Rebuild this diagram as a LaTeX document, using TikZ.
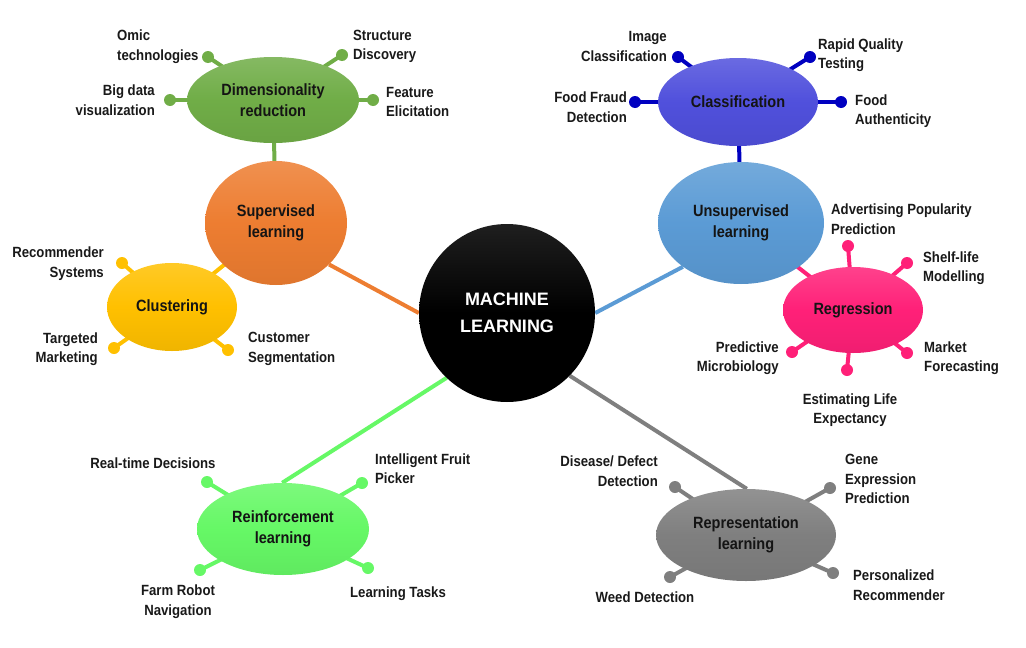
\documentclass[tikz,border=0pt]{standalone}
\usepackage{fontspec}
\setmainfont{Liberation Sans}
\newfontfamily\narrowfont{Liberation Sans}[FakeStretch=0.89]
\usetikzlibrary{shapes.geometric,backgrounds}
\definecolor{cdim}{HTML}{70AD47}
\definecolor{csup}{HTML}{ED7D31}
\definecolor{cclu}{HTML}{FFC000}
\definecolor{ccls}{HTML}{5050DC}
\definecolor{ccld}{HTML}{0000C0}
\definecolor{cuns}{HTML}{5B9BD5}
\definecolor{creg}{HTML}{FF2078}
\definecolor{crei}{HTML}{66F866}
\definecolor{crep}{HTML}{7F7F7F}
\tikzset{
  bub/.style={ellipse, inner sep=0pt, align=center, text=black!92,
    font=\narrowfont\bfseries\fontsize{16.3}{21}\selectfont,
    top color=#1!85!white, bottom color=#1!94!black, middle color=#1},
  lbl/.style={inner sep=0pt, text=black!90, font=\narrowfont\bfseries\fontsize{14.8}{19.5}\selectfont},
  dotn/.style={circle, inner sep=0pt, minimum size=12pt, fill=#1},
  spoke/.style={line width=4pt, draw=#1},
  link/.style={line width=4pt, draw=#1},
}
\begin{document}
\begin{tikzpicture}[x=1pt,y=-1pt]
\useasboundingbox (0,0) rectangle (1026,648);

% ---------- main nodes ----------
\node[ellipse, inner sep=0pt, minimum width=176pt, minimum height=178pt,
  top color=black!88, bottom color=black, middle color=black, align=center, text=white,
  font=\bfseries\fontsize{18}{27}\selectfont] (ml) at (507,313) {MACHINE\\LEARNING};

\node[bub=cdim, minimum width=172pt, minimum height=86pt] (dim) at (273,100) {Dimensionality\\reduction};
\node[bub=csup, minimum width=142pt, minimum height=124pt] (sup) at (276,223) {Supervised\\learning};
\node[bub=cclu, minimum width=130pt, minimum height=88pt] (clu) at (172,307) {Clustering};
\node[bub=ccls, minimum width=160pt, minimum height=88pt] (cls) at (738,102) {Classification};
\node[bub=cuns, minimum width=166pt, minimum height=122pt] (uns) at (741,223) {Unsupervised\\learning};
\node[bub=creg, minimum width=140pt, minimum height=86pt] (reg) at (853,310) {Regression};
\node[bub=crei, minimum width=172pt, minimum height=92pt] (rei) at (283,529) {Reinforcement\\learning};
\node[bub=crep, minimum width=180pt, minimum height=92pt] (rep) at (746,535) {Representation\\learning};

% ---------- spoke dots ----------
\node[dotn=cdim] (d1) at (208,57) {};
\node[dotn=cdim] (d2) at (342,55) {};
\node[dotn=cdim] (d3) at (170,100) {};
\node[dotn=cdim] (d4) at (373,100) {};

\node[dotn=cclu] (k1) at (122,263) {};
\node[dotn=cclu] (k2) at (114,348) {};
\node[dotn=cclu] (k3) at (228,350) {};

\node[dotn=ccld] (c1) at (678,57) {};
\node[dotn=ccld] (c2) at (810,57) {};
\node[dotn=ccld] (c3) at (635,102) {};
\node[dotn=ccld] (c4) at (841,102) {};

\node[dotn=creg] (r1) at (848,246) {};
\node[dotn=creg] (r2) at (907,263) {};
\node[dotn=creg] (r3) at (792,352) {};
\node[dotn=creg] (r4) at (847,370) {};
\node[dotn=creg] (r5) at (907,353) {};

\node[dotn=crei] (f1) at (207,482) {};
\node[dotn=crei] (f2) at (362,483) {};
\node[dotn=crei] (f3) at (200,570) {};
\node[dotn=crei] (f4) at (368,568) {};

\node[dotn=crep] (p1) at (675,487) {};
\node[dotn=crep] (p2) at (830,488) {};
\node[dotn=crep] (p3) at (670,577) {};
\node[dotn=crep] (p4) at (833,573) {};

% ---------- connectors ----------
\begin{pgfonlayer}{background}
\draw[link=csup] (sup.-38) -- (ml.180);
\draw[link=cuns] (uns.217) -- (ml.0);
\draw[link=crei] (rei.91) -- (ml.227);
\draw[link=crep] (rep.89) -- (ml.-45);
\draw[link=cdim] (dim.center) -- (sup.center);
\draw[link=cclu] (clu.center) -- (sup.center);
\draw[link=ccld] (cls.center) -- (uns.center);
\draw[link=creg] (reg.center) -- (uns.center);
\foreach \d in {d1,d2,d3,d4} \draw[spoke=cdim] (dim.center) -- (\d.center);
\foreach \d in {k1,k2,k3} \draw[spoke=cclu] (clu.center) -- (\d.center);
\foreach \d in {c1,c2,c3,c4} \draw[spoke=ccld] (cls.center) -- (\d.center);
\foreach \d in {r1,r2,r3,r4,r5} \draw[spoke=creg] (reg.center) -- (\d.center);
\foreach \d in {f1,f2,f3,f4} \draw[spoke=crei] (rei.center) -- (\d.center);
\foreach \d in {p1,p2,p3,p4} \draw[spoke=crep] (rep.center) -- (\d.center);
\end{pgfonlayer}

% ---------- labels ----------
\node[lbl, anchor=west, align=left] (l1) at (117,46.5) {Omic\\technologies};
\node[lbl, anchor=west, align=left] (l2) at (353,46.5) {Structure\\Discovery};
\node[lbl, anchor=east, align=right] (l3) at (155,100) {Big data\\visualization};
\node[lbl, anchor=west, align=left] (l4) at (386,102) {Feature\\Elicitation};

\node[lbl, anchor=east, align=right] (l5) at (104,263.5) {Recommender\\Systems};
\node[lbl, anchor=east, align=right] (l6) at (98,349) {Targeted\\Marketing};
\node[lbl, anchor=west, align=left] (l7) at (248,349) {Customer\\Segmentation};

\node[lbl, anchor=east, align=right] (l8) at (667,46.5) {Image\\Classification};
\node[lbl, anchor=west, align=left] (l9) at (818,55) {Rapid Quality\\Testing};
\node[lbl, anchor=east, align=right] (l10) at (627,107) {Food Fraud\\Detection};
\node[lbl, anchor=west, align=left] (l11) at (855,111) {Food\\Authenticity};

\node[lbl, anchor=west, align=left] (l12) at (831,219) {Advertising Popularity\\Prediction};
\node[lbl, anchor=west, align=left] (l13) at (923,268) {Shelf-life\\Modelling};
\node[lbl, anchor=east, align=right] (l14) at (779,358) {Predictive\\Microbiology};
\node[lbl, anchor=west, align=left] (l15) at (924,358) {Market\\Forecasting};
\node[lbl, align=center] (l16) at (850,410) {Estimating Life\\Expectancy};

\node[lbl, align=center] (l17) at (153,463) {Real-time Decisions};
\node[lbl, anchor=west, align=left] (l18) at (375,468.5) {Intelligent Fruit\\Picker};
\node[lbl, align=center] (l19) at (178,601.5) {Farm Robot\\Navigation};
\node[lbl, align=center] (l20) at (398,594) {Learning Tasks};

\node[lbl, anchor=east, align=right] (l21) at (658,471) {Disease/ Defect\\Detection};
\node[lbl, anchor=west, align=left] (l22) at (845,479) {Gene\\Expression\\Prediction};
\node[lbl, align=center] (l23) at (645,597) {Weed Detection};
\node[lbl, anchor=west, align=left] (l24) at (853,585) {Personalized\\Recommender};
\end{tikzpicture}
\end{document}
